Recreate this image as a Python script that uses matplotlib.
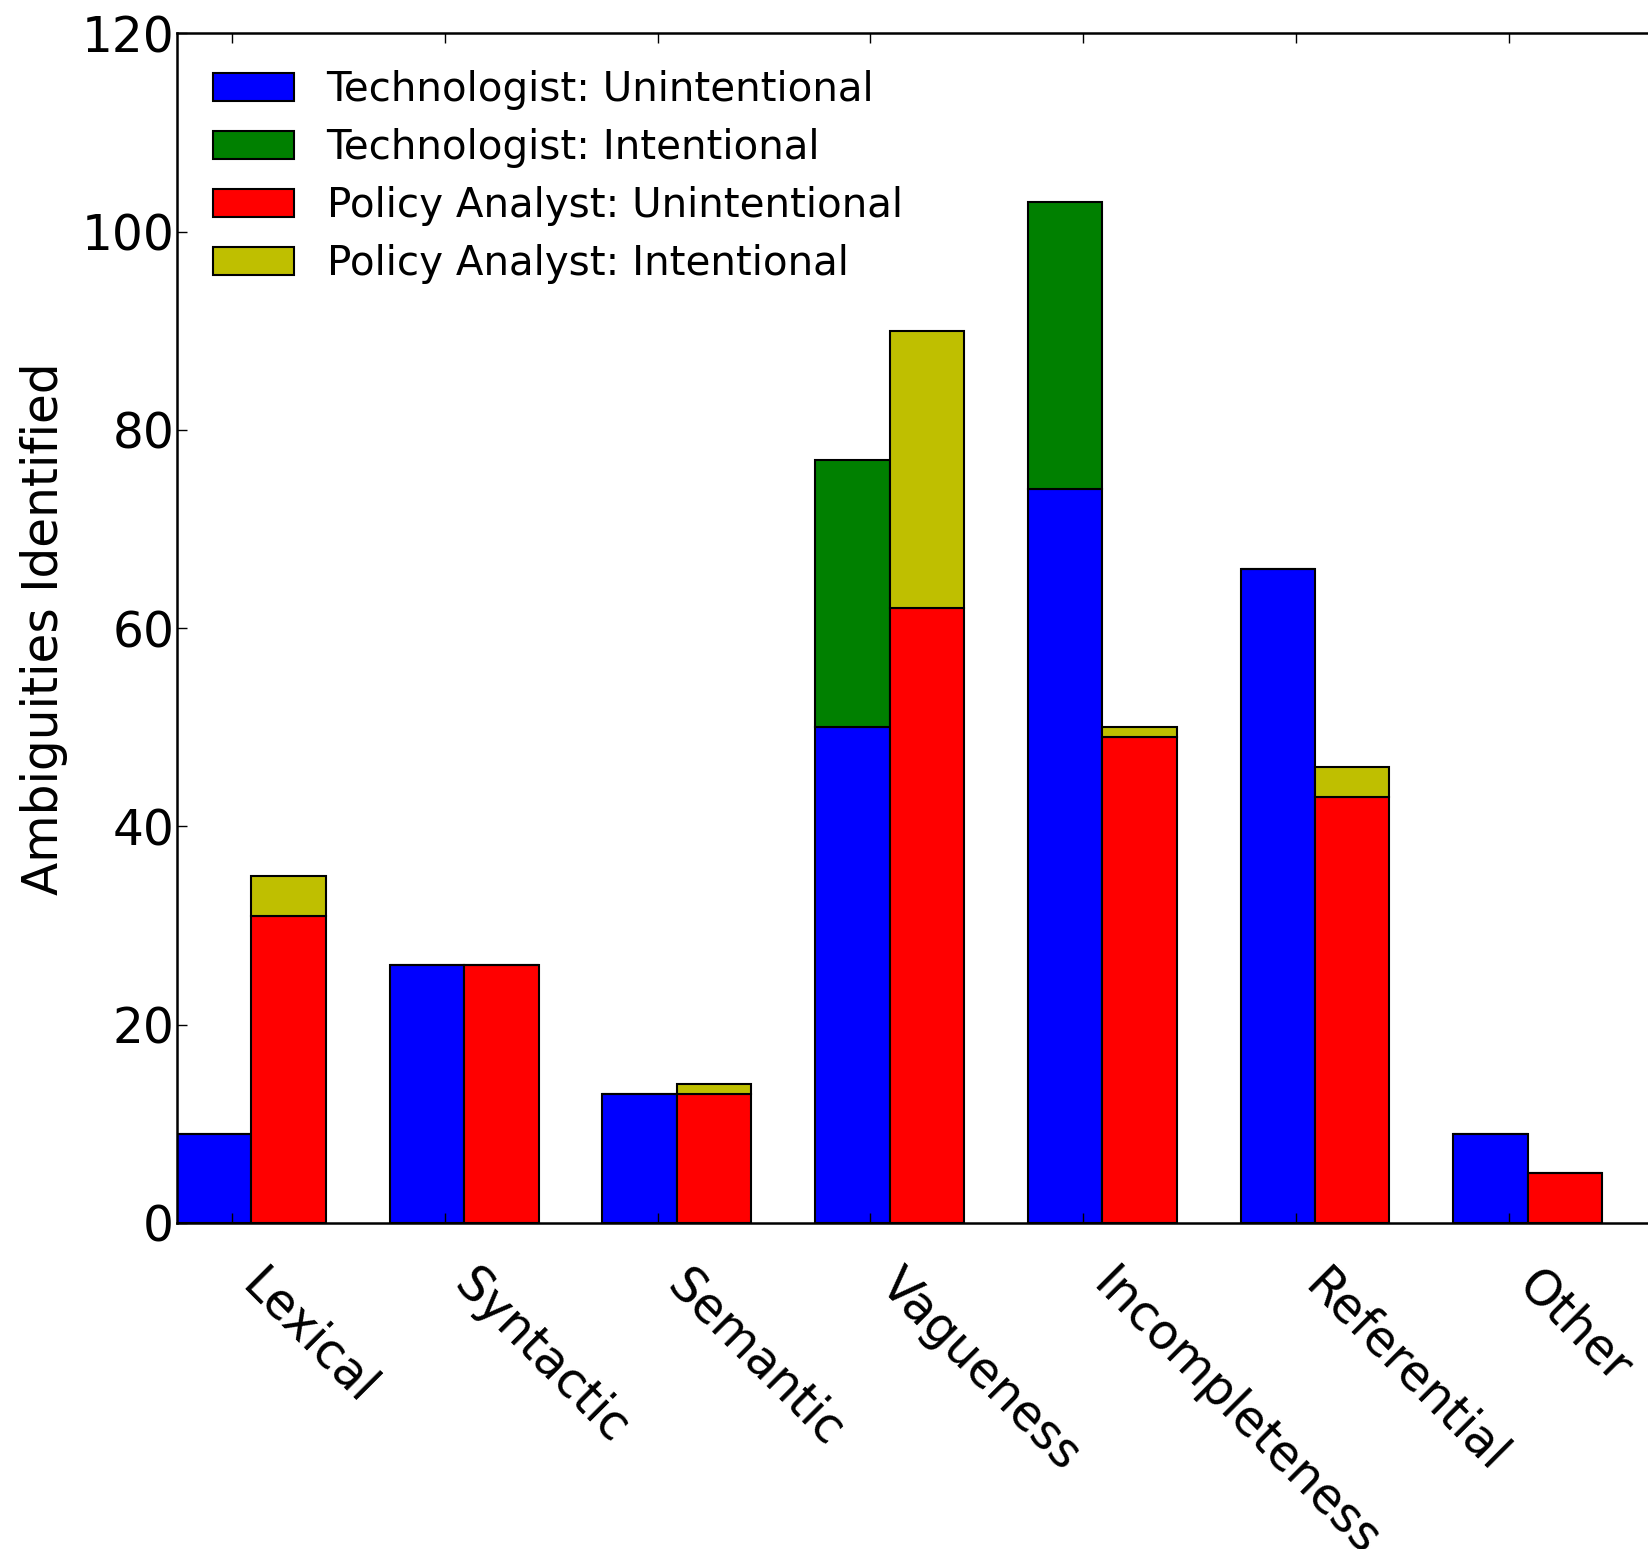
import numpy as np
import matplotlib.pyplot as plt

categories = ['Lexical', 'Syntactic', 'Semantic', 'Vagueness',
              'Incompleteness', 'Referential', 'Other']
tech_unintentional = [9, 26, 13, 50, 74, 66, 9]
tech_intentional = [0, 0, 0, 27, 29, 0, 0]
policy_unintentional = [31, 26, 13, 62, 49, 43, 5]
policy_intentional = [4, 0, 1, 28, 1, 3, 0]

width = 0.35
ind = np.arange(len(categories))

fig = plt.figure(figsize=(16.48, 15.49), dpi=100)
ax = fig.add_axes([0.1074, 0.2105, 0.9035, 0.7679])

kw = dict(width=width, align='edge', edgecolor='black', linewidth=1.5)
ax.bar(ind, tech_unintentional, color=(0, 0, 1),
       label='Technologist: Unintentional', **kw)
ax.bar(ind, tech_intentional, bottom=tech_unintentional, color=(0, 0.5, 0),
       label='Technologist: Intentional', **kw)
ax.bar(ind + width, policy_unintentional, color=(1, 0, 0),
       label='Policy Analyst: Unintentional', **kw)
ax.bar(ind + width, policy_intentional, bottom=policy_unintentional,
       color=(0.75, 0.75, 0), label='Policy Analyst: Intentional', **kw)

ax.set_xlim(0, 7)
ax.set_ylim(0, 120)
ax.set_yticks(np.arange(0, 121, 20))
ax.set_xticks(ind + 0.26)
ax.set_xticklabels(categories, rotation=-45, ha='left', fontsize=35)
ax.tick_params(direction='in', top=True, right=True, length=7.2, width=1)
ax.tick_params(axis='y', labelsize=35, pad=2)
ax.tick_params(axis='x', pad=27)
for s in ax.spines.values():
    s.set_linewidth(1.8)

ax.set_ylabel('Ambiguities Identified', fontsize=35)
ax.yaxis.set_label_coords(-0.073, 0.5)

ax.legend(loc='upper left', frameon=False, fontsize=29.1, labelspacing=0.45)

fig.savefig('out.png', dpi=100)
